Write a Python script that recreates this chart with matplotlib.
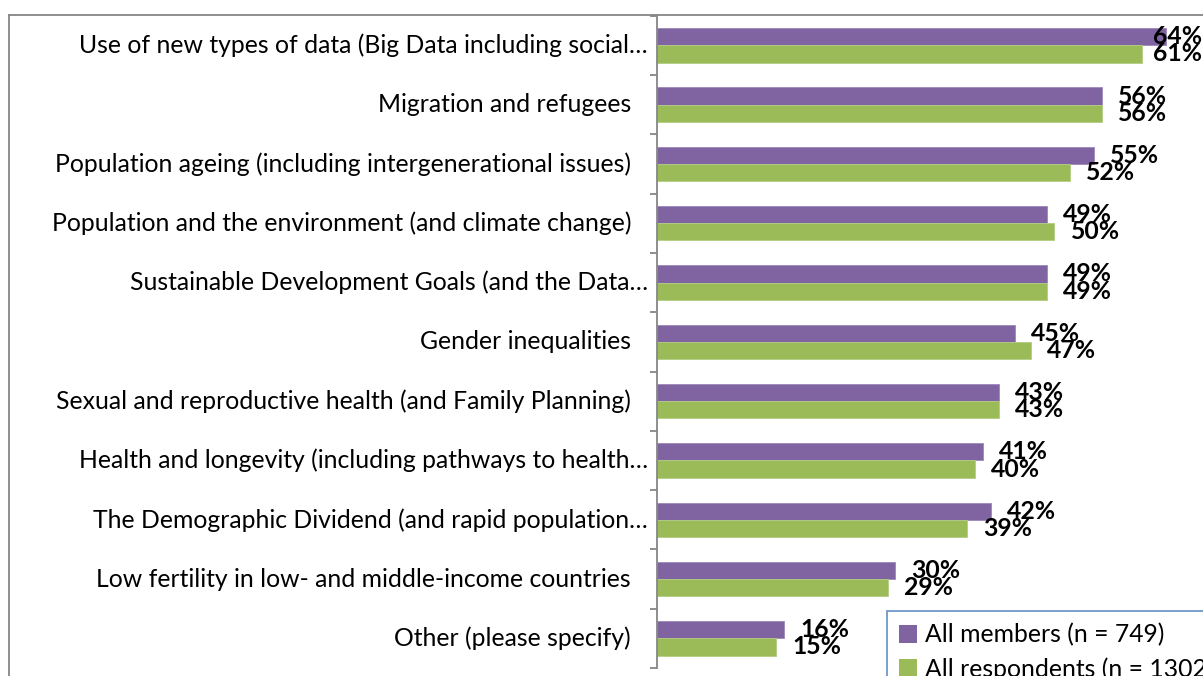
import matplotlib
matplotlib.use("Agg")
import matplotlib.pyplot as plt
from matplotlib.lines import Line2D
from matplotlib.patches import Patch
import matplotlib.transforms as mtransforms

plt.rcParams["font.family"] = ["Lato", "DejaVu Sans"]

categories = [
    "Use of new types of data (Big Data including social\u2026",
    "Migration and refugees",
    "Population ageing (including intergenerational issues)",
    "Population and the environment (and climate change)",
    "Sustainable Development Goals (and the Data\u2026",
    "Gender inequalities",
    "Sexual and reproductive health (and Family Planning)",
    "Health and longevity (including pathways to health\u2026",
    "The Demographic Dividend (and rapid population\u2026",
    "Low fertility in low- and middle-income countries",
    "Other (please specify)",
]
members = [64, 56, 55, 49, 49, 45, 43, 41, 42, 30, 16]
respondents = [61, 56, 52, 50, 49, 47, 43, 40, 39, 29, 15]
series_names = ["All members (n = 749)", "All respondents (n = 1302)"]

PURPLE = "#8064A2"
GREEN = "#9BBB59"
GRAY = "#868686"
FS = 17.8

W, H = 1203, 676
fig = plt.figure(figsize=(W / 100, H / 100), dpi=100)

# plot area in pixels: axis at x=657, top 15.7, bottom 668, 7.95 px per %
x0, top, bot, ppu = 657, 15.7, 668, 7.95
xmax = 70
ax = fig.add_axes([x0 / W, 1 - bot / H, xmax * ppu / W, (bot - top) / H])

n = len(categories)
ys = list(range(n))
h = 0.29
ax.barh([y - h / 2 for y in ys], members, height=h, color=PURPLE, edgecolor="#9d88bb", linewidth=0.6)
ax.barh([y + h / 2 for y in ys], respondents, height=h, color=GREEN, edgecolor="#b4cd83", linewidth=0.6)

ax.set_xlim(0, xmax)
ax.set_ylim(n - 0.5, -0.5)
for s in ["top", "right", "bottom"]:
    ax.spines[s].set_visible(False)
ax.spines["left"].set_color(GRAY)
ax.spines["left"].set_linewidth(1.3)
ax.set_xticks([])
ax.set_yticks([i - 0.5 for i in range(n + 1)])
ax.set_yticklabels([])
ax.tick_params(axis="y", direction="out", length=5, width=1.3, color=GRAY)

# category labels (truncated ones sit closer to the axis, like Excel)
for y, lab in zip(ys, categories):
    off = -9 if lab.endswith("\u2026") else -26
    tr = mtransforms.offset_copy(ax.transData, fig=fig, x=off, y=0, units="dots")
    ax.text(0, y, lab, transform=tr, ha="right", va="center", fontsize=FS, color="black")

# data labels, pulled back inside the chart when they would run off the right edge
limit = 1202
fig.canvas.draw()
renderer = fig.canvas.get_renderer()
for vals, dy in [(members, -h / 2), (respondents, h / 2)]:
    for y, v in zip(ys, vals):
        tr = mtransforms.offset_copy(ax.transData, fig=fig, x=16, y=0, units="dots")
        t = ax.text(v, y + dy, f"{v}%", transform=tr, ha="left", va="center",
                    fontsize=FS, fontweight="bold", color="black")
        bb = t.get_window_extent(renderer)
        if bb.x1 > limit:
            t.set_transform(mtransforms.offset_copy(ax.transData, fig=fig,
                                                    x=16 - (bb.x1 - limit), y=0, units="dots"))

# chart border (top and left visible)
fig.add_artist(Line2D([9 / W, 1], [1 - 15 / H, 1 - 15 / H], transform=fig.transFigure, color=GRAY, lw=1.3))
fig.add_artist(Line2D([9 / W, 9 / W], [0, 1 - 15 / H], transform=fig.transFigure, color=GRAY, lw=1.3))

handles = [Patch(facecolor=PURPLE), Patch(facecolor=GREEN)]
leg = fig.legend(handles, series_names, loc="upper left", bbox_to_anchor=(887 / W, 1 - 611 / H),
                 bbox_transform=fig.transFigure, fontsize=FS, frameon=True, fancybox=False,
                 handlelength=0.7, handleheight=0.7, handletextpad=0.35, labelspacing=0.42,
                 borderpad=0.5, borderaxespad=0)
leg.get_frame().set_edgecolor("#4A7EBB")
leg.get_frame().set_linewidth(1.3)

fig.savefig("out.png", dpi=100)
